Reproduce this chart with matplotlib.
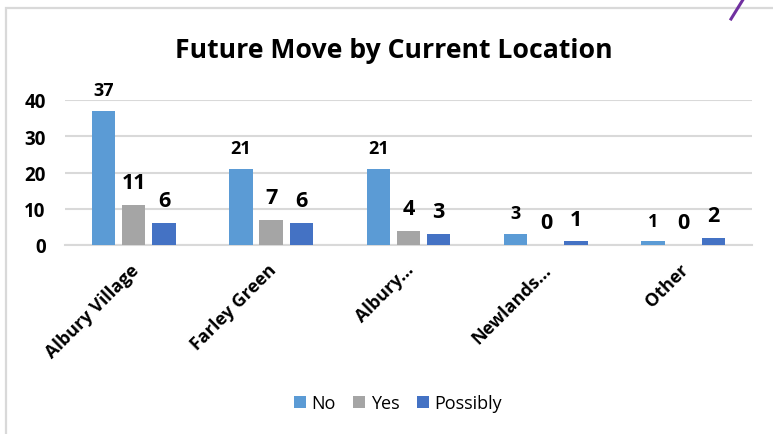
import matplotlib
matplotlib.use("Agg")
import matplotlib.pyplot as plt
from matplotlib.patches import Rectangle
from matplotlib.lines import Line2D
import numpy as np

categories = ["Albury Village", "Farley Green", "Albury...", "Newlands...", "Other"]
no_vals = [37, 21, 21, 3, 1]
yes_vals = [11, 7, 4, 0, 0]
possibly_vals = [6, 6, 3, 1, 2]
series_names = ["No", "Yes", "Possibly"]
colors = ["#5B9BD5", "#A5A5A5", "#4472C4"]
yticks = [0, 10, 20, 30, 40]

FONT = "Open Sans"
W, H = 773, 435
fig = plt.figure(figsize=(W / 100, H / 100), dpi=100)

def fx(px):
    return px / W

def fy(py):
    return 1 - py / H

# chart frame
fig.patches.append(Rectangle((fx(6), fy(H + 5)), fx(W + 10), (H + 5 - 9) / H,
                             transform=fig.transFigure, fill=False,
                             edgecolor="#D9D9D9", linewidth=1.6))
# purple stroke top-right
fig.lines.append(Line2D([fx(744), fx(731)], [fy(-1), fy(20)], transform=fig.transFigure,
                        color="#7030A0", linewidth=2.2))

ax = fig.add_axes([fx(65), fy(246), fx(752 - 65), (246 - 101) / H])
x = np.arange(len(categories))
bw = 0.171
off = 0.22
all_vals = [no_vals, yes_vals, possibly_vals]
for i, (vals, c, name) in enumerate(zip(all_vals, colors, series_names)):
    xs = x + (i - 1) * off
    ax.bar(xs, vals, width=bw, color=c, label=name, zorder=3)
    fs = 13 if i == 0 else 15.5
    for xi, v in zip(xs, vals):
        ax.annotate(str(v), (xi, v), xytext=(0, 8.5), textcoords="offset points",
                    ha="center", va="bottom", fontsize=fs, fontweight="bold",
                    family=FONT, color="black", annotation_clip=False)

ax.set_xlim(-0.5, len(categories) - 0.5)
ax.set_ylim(0, 40)
ax.set_yticks(yticks)
ax.set_yticklabels([str(t) for t in yticks], fontsize=13.5, fontweight="bold", family=FONT)
ax.yaxis.grid(True, color="#D9D9D9", linewidth=1.5, zorder=0)
ax.set_axisbelow(True)
for s in ["top", "right", "left"]:
    ax.spines[s].set_visible(False)
ax.spines["bottom"].set_color("#D9D9D9")
ax.spines["bottom"].set_linewidth(1.5)
ax.tick_params(axis="both", length=0)
ax.tick_params(axis="y", pad=14)
ax.set_xticks(x - 0.03)
ax.set_xticklabels(categories, rotation=45, ha="right", rotation_mode="anchor",
                   fontsize=13, fontweight="bold", family=FONT)
ax.tick_params(axis="x", pad=11)

fig.text(fx(394), fy(51), "Future Move by Current Location", ha="center", va="center",
         fontsize=19.2, fontweight="bold", family=FONT)

handles, labels = ax.get_legend_handles_labels()
fig.legend(handles, labels, loc="center", bbox_to_anchor=(fx(398), fy(404)), ncol=3,
           frameon=False, prop={"family": FONT, "size": 13}, handlelength=0.65,
           handleheight=0.65, handletextpad=0.3, columnspacing=1.0)

fig.savefig("out.png", dpi=100)
